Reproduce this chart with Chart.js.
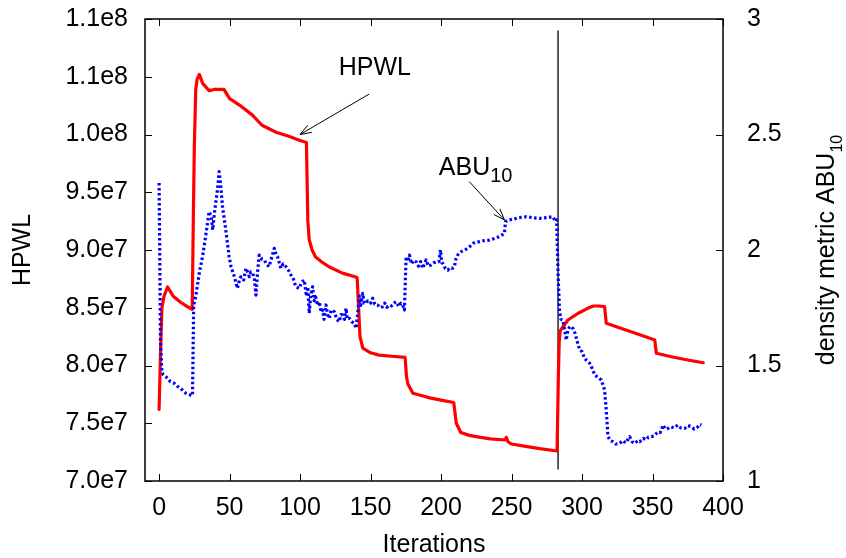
<!DOCTYPE html>
<html>
<head>
<meta charset="utf-8">
<script src="https://cdn.jsdelivr.net/npm/chart.js@4/dist/chart.umd.min.js"></script>
<style>
  html, body { margin: 0; padding: 0; background: #fff; }
  #chart { display: block; }
</style>
</head>
<body>
<canvas id="chart" width="846" height="558"></canvas>
<script>
// HPWL curve (left axis)
const hpwlIter = [0, 1, 2, 3.5, 6, 10, 15, 20, 23.5, 24.3,
  25, 26, 27, 28.5, 31, 35.5, 39, 46, 50, 57,
  66, 73, 83, 92, 99.5, 104.5, 105.5, 106.5, 108.5, 111,
  115, 120.5, 130, 138.5, 140.5, 141.5, 142.5, 144.5, 150, 156,
  165, 174.5, 175.5, 176.5, 180, 186, 192, 200, 209, 209.8,
  210.8, 214, 220, 227, 235, 245.5, 246.3, 247.5, 250, 260,
  270, 282.3, 283.2, 283.8, 284.5, 286.5, 290, 297, 304, 308,
  312, 316, 317.2, 328, 340, 351.6, 352.7, 363.4, 375, 386];
const hpwlVal = [7.62e7, 8.1e7, 8.5e7, 8.6e7, 8.68e7, 8.6e7, 8.55e7, 8.51e7, 8.487e7, 9.3e7,
  9.9e7, 1.039e8, 1.048e8, 1.052e8, 1.044e8, 1.038e8, 1.039e8, 1.039e8, 1.031e8, 1.0255e8,
  1.017e8, 1.008e8, 1.002e8, 9.985e7, 9.95e7, 9.93e7, 9.25e7, 9.09e7, 9.0e7, 8.94e7,
  8.9e7, 8.855e7, 8.8e7, 8.77e7, 8.76e7, 8.5e7, 8.25e7, 8.15e7, 8.11e7, 8.09e7,
  8.08e7, 8.07e7, 7.9e7, 7.84e7, 7.76e7, 7.74e7, 7.72e7, 7.7e7, 7.68e7, 7.6e7,
  7.5e7, 7.42e7, 7.395e7, 7.38e7, 7.365e7, 7.355e7, 7.378e7, 7.34e7, 7.32e7, 7.3e7,
  7.28e7, 7.26e7, 7.9e7, 8.2e7, 8.3e7, 8.336e7, 8.394e7, 8.45e7, 8.495e7, 8.515e7,
  8.515e7, 8.509e7, 8.365e7, 8.32e7, 8.27e7, 8.22e7, 8.106e7, 8.076e7, 8.048e7, 8.024e7];

// ABU10 density metric (right axis)
const abuIter = [
  0, 1, 2, 3, 6, 8, 10.7, 13, 15.4, 17, 19, 21, 22.5, 23.7, 24.5, 26, 27.5, 28.5, 30.8, 33, 34.3, 35.5, 37, 38, 39.5, 41.4, 42.6, 43.8, 45, 47, 48.5, 49.7, 51, 53,
  55.6, 57, 58, 60, 61.6, 63, 64, 65, 66.3, 67.5, 68.7, 69.8, 71, 73, 74.6, 76, 78, 80, 81.7, 83, 84, 85, 86.4, 88, 90, 92, 93.5, 95, 97, 99.4, 101,
  103, 104.5, 105.5, 106.5, 107.5, 108.9, 110, 111, 112.5, 113.6, 115, 116, 117, 118.4, 119.5, 120.7, 122, 124.3, 126, 127.8, 129, 130, 131.5, 132.6, 133.5, 135, 136.5, 138.5, 139.7,
  140.8, 142, 143, 144.4, 145.5, 146.8, 148, 150, 151.5, 153, 155, 157, 158.6, 160, 161.5, 163.4, 165, 166.5, 168, 170, 171.5, 172.8, 174,
  175.2, 176.5, 177.6, 179, 180.5, 182.3, 184, 185.5, 187, 189.4, 191, 193, 195, 196.5, 198.5, 199.6, 200.5, 201.2, 203, 204.8, 206.5, 208.3, 209.5, 210.7,
  212, 214.3, 217, 220.2, 223, 227.3, 230, 234.4, 238, 241.5, 245, 245.7, 248, 251, 255, 260.4, 265, 269.9, 275, 279.3, 281.3,
  282, 283, 284, 285, 286.4, 287.5, 288.8, 290, 291.5, 293.5, 295, 296, 298.3, 300, 301.8, 303.5, 305.4, 307, 309, 311, 313.7, 316, 317.2,
  318.4, 320, 322, 324, 326.7, 329, 331, 333.8, 335.5, 337.4, 339.5, 341, 343.3, 345.5, 347, 349.2, 351, 354, 355.5, 357.5, 359, 361, 363, 365, 368, 370, 372.9, 375, 377.6, 379.5, 382.3, 383.5, 384.7];
const abuVal = [
  2.29, 1.6, 1.47, 1.46, 1.445, 1.43, 1.423, 1.41, 1.401, 1.39, 1.38, 1.375, 1.372, 1.37, 1.76, 1.80, 1.86, 1.90, 1.971, 2.058, 2.115, 2.166, 2.144, 2.087, 2.173, 2.26, 2.339, 2.274, 2.187, 2.1, 2.029, 1.971, 1.928, 1.892,
  1.834, 1.87, 1.884, 1.87, 1.921, 1.9, 1.884, 1.905, 1.9, 1.88, 1.805, 1.90, 1.978, 1.96, 1.957, 1.94, 1.928, 1.97, 2.007, 1.98, 1.971, 1.95, 1.921, 1.94, 1.928, 1.91, 1.892, 1.88, 1.841, 1.834, 1.86,
  1.87, 1.80, 1.84, 1.726, 1.80, 1.841, 1.78, 1.798, 1.76, 1.776, 1.73, 1.74, 1.70, 1.762, 1.72, 1.704, 1.74, 1.733, 1.70, 1.69, 1.72, 1.719, 1.70, 1.748, 1.70, 1.704, 1.69, 1.683, 1.661,
  1.719, 1.80, 1.76, 1.812, 1.77, 1.769, 1.78, 1.77, 1.791, 1.765, 1.762, 1.75, 1.755, 1.77, 1.752, 1.762, 1.758, 1.77, 1.776, 1.755, 1.77, 1.762, 1.74,
  1.971, 1.95, 1.978, 1.94, 1.955, 1.949, 1.93, 1.95, 1.921, 1.957, 1.93, 1.935, 1.945, 1.949, 1.95, 2.0, 1.945, 1.942, 1.92, 1.913, 1.925, 1.921, 1.93, 1.964,
  1.98, 1.993, 2.0, 2.014, 2.03, 2.036, 2.04, 2.043, 2.05, 2.058, 2.072, 2.123, 2.13, 2.133, 2.14, 2.144, 2.14, 2.137, 2.14, 2.144, 2.123,
  2.13, 1.9, 1.74, 1.70, 1.697, 1.66, 1.61, 1.654, 1.67, 1.661, 1.64, 1.618, 1.567, 1.56, 1.531, 1.52, 1.51, 1.49, 1.459, 1.45, 1.437, 1.394, 1.307,
  1.192, 1.175, 1.17, 1.16, 1.163, 1.175, 1.165, 1.192, 1.17, 1.163, 1.175, 1.17, 1.185, 1.178, 1.19, 1.192, 1.195, 1.213, 1.21, 1.242, 1.225, 1.228, 1.235, 1.23, 1.242, 1.23, 1.228, 1.24, 1.235, 1.225, 1.235, 1.245, 1.242];

// vertical marker line
const markIter = [283, 283];
const markVal = [7.1e7, 1.09e8];

const xTicks = [0, 50, 100, 150, 200, 250, 300, 350, 400];
const hpwlTicks = [7.0e7, 7.5e7, 8.0e7, 8.5e7, 9.0e7, 9.5e7, 1.0e8, 1.05e8, 1.1e8];
const abuTicks = [1, 1.5, 2, 2.5, 3];

// labels with arrows, in data coordinates
const notes = [
  { text: 'HPWL', sub: '', axis: 'y', x: 153, y: 1.0515e8, align: 'center', from: [149, 1.035e8], to: [100, 1.0e8] },
  { text: 'ABU', sub: '10', axis: 'y2', x: 198.4, y: 2.325, align: 'left', from: [220, 2.296], to: [245, 2.13] }
];

const FONT = '"Liberation Sans", Arial, Helvetica, sans-serif';
Chart.defaults.font.family = FONT;
Chart.defaults.color = '#000';

function zip(xs, ys) {
  return xs.map((x, i) => ({ x: x, y: ys[i] }));
}

function fmtExp(v) {
  return v.toExponential(1).replace('e+', 'e');
}

function arrow(ctx, x1, y1, x2, y2) {
  const ang = Math.atan2(y2 - y1, x2 - x1);
  const len = 12, wing = 0.35;
  ctx.beginPath();
  ctx.moveTo(x1, y1);
  ctx.lineTo(x2, y2);
  ctx.moveTo(x2 - len * Math.cos(ang - wing), y2 - len * Math.sin(ang - wing));
  ctx.lineTo(x2, y2);
  ctx.lineTo(x2 - len * Math.cos(ang + wing), y2 - len * Math.sin(ang + wing));
  ctx.stroke();
}

const decor = {
  id: 'decor',
  afterDraw(chart) {
    const { ctx, chartArea: a, scales } = chart;
    ctx.save();
    ctx.strokeStyle = '#000';
    ctx.lineWidth = 1;
    ctx.beginPath();
    xTicks.forEach(v => {
      const p = Math.round(scales.x.getPixelForValue(v)) + 0.5;
      ctx.moveTo(p, a.bottom); ctx.lineTo(p, a.bottom - 7);
      ctx.moveTo(p, a.top); ctx.lineTo(p, a.top + 7);
    });
    hpwlTicks.forEach(v => {
      const p = Math.round(scales.y.getPixelForValue(v)) + 0.5;
      ctx.moveTo(a.left, p); ctx.lineTo(a.left + 7, p);
    });
    abuTicks.forEach(v => {
      const p = Math.round(scales.y2.getPixelForValue(v)) + 0.5;
      ctx.moveTo(a.right, p); ctx.lineTo(a.right - 7, p);
    });
    ctx.stroke();

    ctx.lineWidth = 1.5;
    ctx.strokeRect(a.left, a.top, a.right - a.left, a.bottom - a.top);

    // annotations
    ctx.lineWidth = 1;
    ctx.fillStyle = '#000';
    notes.forEach(n => {
      const ys = scales[n.axis];
      const tx = scales.x.getPixelForValue(n.x);
      const ty = ys.getPixelForValue(n.y);
      ctx.textBaseline = 'alphabetic';
      ctx.font = '25px ' + FONT;
      ctx.textAlign = n.align;
      ctx.fillText(n.text, tx, ty);
      if (n.sub) {
        const w = ctx.measureText(n.text).width;
        ctx.font = '20px ' + FONT;
        ctx.textAlign = 'left';
        ctx.fillText(n.sub, tx + w, ty + 7.5);
      }
      arrow(ctx,
        scales.x.getPixelForValue(n.from[0]), ys.getPixelForValue(n.from[1]),
        scales.x.getPixelForValue(n.to[0]), ys.getPixelForValue(n.to[1]));
    });

    // right axis title, reading bottom to top, with subscript
    const main = 'density metric ABU', sub = '10';
    ctx.font = '25px ' + FONT;
    const w1 = ctx.measureText(main).width;
    ctx.font = '16px ' + FONT;
    const w2 = ctx.measureText(sub).width;
    ctx.translate(834, (a.top + a.bottom) / 2);
    ctx.rotate(-Math.PI / 2);
    ctx.textAlign = 'left';
    ctx.textBaseline = 'alphabetic';
    const s = -(w1 + w2) / 2;
    ctx.font = '25px ' + FONT;
    ctx.fillText(main, s, 0);
    ctx.font = '16px ' + FONT;
    ctx.fillText(sub, s + w1, 8);
    ctx.restore();
  }
};

new Chart(document.getElementById('chart').getContext('2d'), {
  type: 'line',
  data: {
    datasets: [
      {
        label: 'ABU10',
        data: zip(abuIter, abuVal),
        yAxisID: 'y2',
        borderColor: '#0000ff',
        borderWidth: 3.2,
        borderDash: [2.5, 2.5],
        borderCapStyle: 'butt',
        borderJoinStyle: 'round',
        pointRadius: 0,
        order: 0
      },
      {
        label: 'HPWL',
        data: zip(hpwlIter, hpwlVal),
        yAxisID: 'y',
        borderColor: '#ff0000',
        borderWidth: 3.2,
        borderJoinStyle: 'round',
        borderCapStyle: 'round',
        pointRadius: 0,
        order: 1
      },
      {
        label: 'marker',
        data: zip(markIter, markVal),
        yAxisID: 'y',
        borderColor: '#000',
        borderWidth: 1.3,
        pointRadius: 0,
        order: 2
      }
    ]
  },
  options: {
    responsive: false,
    animation: false,
    devicePixelRatio: 1,
    layout: { padding: { top: 19, left: 0, right: 0, bottom: 0 } },
    plugins: { legend: { display: false }, tooltip: { enabled: false } },
    scales: {
      x: {
        type: 'linear',
        min: -10,
        max: 400,
        afterBuildTicks: s => { s.ticks = xTicks.map(v => ({ value: v })); },
        afterFit: s => { s.height = 77; s.paddingLeft = 0; s.paddingRight = 0; },
        grid: { display: false, drawTicks: false },
        border: { display: false },
        ticks: { font: { size: 25 }, padding: 12, maxRotation: 0, autoSkip: false },
        title: { display: true, text: 'Iterations', font: { size: 25, lineHeight: 1 }, padding: { top: 0, bottom: 0 } }
      },
      y: {
        position: 'left',
        min: 7.0e7,
        max: 1.1e8,
        afterBuildTicks: s => { s.ticks = hpwlTicks.map(v => ({ value: v })); },
        afterFit: s => { s.width = 145; s.paddingTop = 0; s.paddingBottom = 0; },
        grid: { display: false, drawTicks: false },
        border: { display: false },
        ticks: { font: { size: 25 }, padding: 17, autoSkip: false, callback: v => fmtExp(v) },
        title: { display: true, text: 'HPWL', font: { size: 25, lineHeight: 1 }, padding: { top: 11, bottom: 0 } }
      },
      y2: {
        position: 'right',
        min: 1,
        max: 3,
        afterBuildTicks: s => { s.ticks = abuTicks.map(v => ({ value: v })); },
        afterFit: s => { s.width = 123; s.paddingTop = 0; s.paddingBottom = 0; },
        grid: { display: false, drawTicks: false },
        border: { display: false },
        ticks: { font: { size: 25 }, padding: 24, autoSkip: false, callback: v => String(v) }
      }
    }
  },
  plugins: [decor]
});
</script>
</body>
</html>
